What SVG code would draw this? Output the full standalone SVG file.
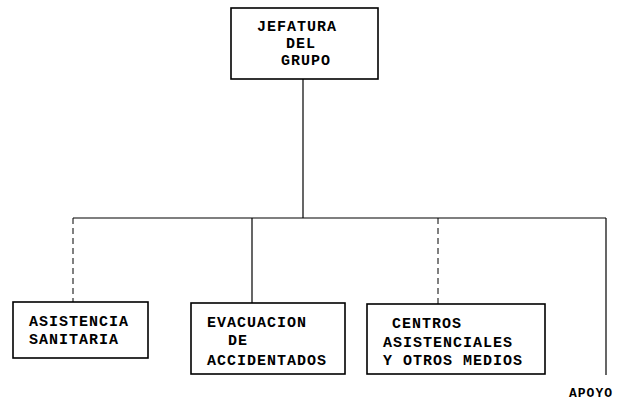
<svg xmlns="http://www.w3.org/2000/svg" width="630" height="403" viewBox="0 0 630 403">
<style>
.box{fill:#fff;stroke:#000;stroke-width:1.6}
.t{font-family:"Liberation Mono","DejaVu Sans Mono",monospace;font-weight:bold;font-size:15px;letter-spacing:1px;fill:#000}
.c{fill:none;stroke:#000;stroke-width:1.2}
.d{fill:none;stroke:#000;stroke-width:1;stroke-dasharray:6 4}
</style>
<rect width="630" height="403" fill="#fff"/>
<g id="connectors">
<line class="c" x1="303" y1="79" x2="303" y2="218"/>
<line class="c" x1="73" y1="218" x2="606" y2="218"/>
<line class="d" x1="73" y1="218" x2="73" y2="302"/>
<line class="c" x1="252" y1="218" x2="252" y2="303"/>
<line class="d" x1="438" y1="218" x2="438" y2="304"/>
<line class="c" x1="606" y1="218" x2="606" y2="375"/>
</g>
<g id="jefatura">
<rect class="box" x="231" y="8" width="147" height="71"/>
<text class="t" x="257" y="31">JEFATURA</text>
<text class="t" x="286" y="48">DEL</text>
<text class="t" x="281" y="65">GRUPO</text>
</g>
<g id="asistencia">
<rect class="box" x="13" y="302" width="135" height="56"/>
<text class="t" x="29" y="326">ASISTENCIA</text>
<text class="t" x="29" y="344">SANITARIA</text>
</g>
<g id="evacuacion">
<rect class="box" x="191" y="303" width="154" height="71"/>
<text class="t" x="207" y="327">EVACUACION</text>
<text class="t" x="228" y="345">DE</text>
<text class="t" x="207" y="365">ACCIDENTADOS</text>
</g>
<g id="centros">
<rect class="box" x="367" y="304" width="178" height="70"/>
<text class="t" x="392" y="328">CENTROS</text>
<text class="t" x="383" y="347">ASISTENCIALES</text>
<text class="t" x="383" y="365">Y OTROS MEDIOS</text>
</g>
<g id="apoyo">
<text class="t" x="569" y="397" style="font-size:13px;letter-spacing:1px">APOYO</text>
</g>
</svg>
